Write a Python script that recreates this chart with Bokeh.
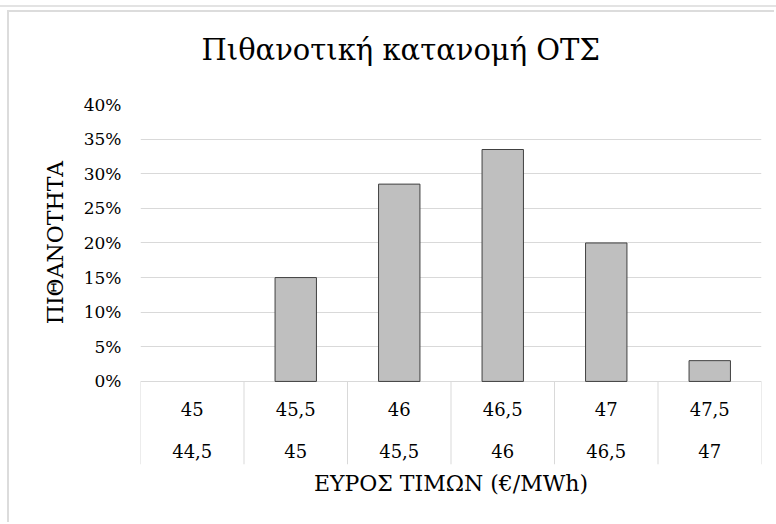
from bokeh.plotting import figure
from bokeh.models import Range1d, FixedTicker, NumeralTickFormatter, LinearAxis
from bokeh.core.properties import value
from bokeh.embed import file_html
from bokeh.resources import INLINE

# Price bins (upper / lower bound, €/MWh) and their probabilities
upper_bounds = ["45", "45,5", "46", "46,5", "47", "47,5"]
lower_bounds = ["44,5", "45", "45,5", "46", "46,5", "47"]
probability = [0.0, 0.15, 0.285, 0.335, 0.20, 0.03]
y_ticks = [0.0, 0.05, 0.10, 0.15, 0.20, 0.25, 0.30, 0.35, 0.40]

FONT = "DejaVu Serif"
GRID = "#d9d9d9"
TEXT = "#000000"

n = len(probability)
centers = [i + 0.5 for i in range(n)]
bounds = list(range(n + 1))
# empty bins get no outline
bar_lines = ["#404040" if v > 0 else None for v in probability]

# the frame reaches below zero to hold the two-row category table
table_depth = 0.12

p = figure(
    width=767, height=512,
    x_range=Range1d(0, n), y_range=Range1d(-table_depth, 0.4),
    output_backend="svg", toolbar_location=None,
    min_border_left=131, min_border_right=15, min_border_top=92, min_border_bottom=60,
    styles={"margin-left": "7px", "margin-top": "10px",
            "border-top": "2px solid #dcdcdc", "border-left": "2px solid #dcdcdc",
            "box-shadow": "0 4px 0 7px white, 0 2px 0 7px #e3e3e3"},
)
p.outline_line_color = None
p.background_fill_color = "white"
p.border_fill_color = "white"

p.title.text = "Πιθανοτική κατανομή ΟΤΣ"
p.title.text_font = FONT
p.title.text_font_size = "29px"
p.title.text_font_style = "normal"
p.title.text_color = TEXT
p.title.align = "left"
p.title.offset = 61

# blank axis above the frame: keeps a gap between title and plot
gap = LinearAxis(ticker=FixedTicker(ticks=[]), axis_line_color=None,
                 major_tick_line_color=None, minor_tick_line_color=None,
                 major_tick_out=0, major_tick_in=0, major_label_standoff=0,
                 axis_label=" ", axis_label_text_font_size="22px",
                 axis_label_standoff=5)
p.add_layout(gap, "above")

# horizontal gridlines only over the value part
p.xgrid.visible = False
p.ygrid.ticker = FixedTicker(ticks=y_ticks)
p.ygrid.grid_line_color = GRID
p.ygrid.grid_line_width = 1

yax = p.left[0]
yax.ticker = FixedTicker(ticks=y_ticks)
yax.formatter = NumeralTickFormatter(format="0%")
yax.axis_line_color = None
yax.major_tick_line_color = None
yax.minor_tick_line_color = None
yax.major_label_standoff = 13
yax.major_label_text_font = FONT
yax.major_label_text_font_size = "17px"
yax.major_label_text_color = TEXT
# leading no-break spaces lift the label to the middle of the value area
yax.axis_label = "\u00a0" * 12 + "ΠΙΘΑΝΟΤΗΤΑ"
yax.axis_label_text_font = FONT
yax.axis_label_text_font_size = "22px"
yax.axis_label_text_font_style = "normal"
yax.axis_label_text_color = TEXT
yax.axis_label_standoff = 13

xax = p.below[0]
xax.ticker = FixedTicker(ticks=[])
xax.axis_line_color = None
xax.major_tick_line_color = None
xax.minor_tick_line_color = None
xax.major_tick_out = 0
xax.major_tick_in = 0
xax.axis_label = "ΕΥΡΟΣ ΤΙΜΩΝ (€/MWh)"
xax.axis_label_text_font = FONT
xax.axis_label_text_font_size = "22px"
xax.axis_label_text_font_style = "normal"
xax.axis_label_text_color = TEXT
xax.axis_label_standoff = 6

# category table separators
p.segment(x0=bounds, y0=[-table_depth] * len(bounds), x1=bounds, y1=[0] * len(bounds),
          line_color=GRID, line_width=1)

p.vbar(x=centers, top=probability, width=0.4,
       fill_color="#bfbfbf", line_color=bar_lines, line_width=1)

p.text(x=centers, y=[0] * n, text=upper_bounds, y_offset=28,
       text_align="center", text_baseline="middle",
       text_font=value(FONT), text_font_size="18px", text_color=TEXT)
p.text(x=centers, y=[0] * n, text=lower_bounds, y_offset=70,
       text_align="center", text_baseline="middle",
       text_font=value(FONT), text_font_size="18px", text_color=TEXT)

open("out.html", "w").write(file_html(p, INLINE))
